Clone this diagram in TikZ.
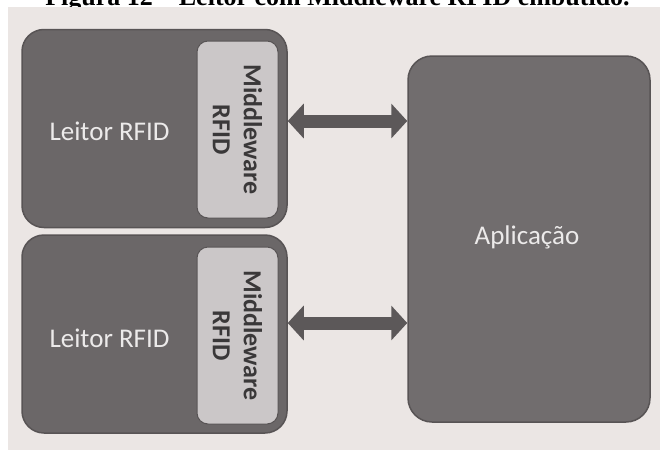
\documentclass[tikz,border=0pt]{standalone}
\usepackage{fontspec}
\setmainfont{Carlito}
\newfontfamily\titlefont{Liberation Serif}
\usetikzlibrary{arrows.meta}

\definecolor{paper}{HTML}{EBE6E4}
\definecolor{readerfill}{HTML}{6B6768}
\definecolor{appfill}{HTML}{716D6E}
\definecolor{readeredge}{HTML}{585455}
\definecolor{mwfill}{HTML}{CBC7C8}
\definecolor{mwtext}{HTML}{3A3839}
\definecolor{lighttext}{HTML}{ECEAEA}
\definecolor{arrowgray}{HTML}{5C5859}

\tikzset{
  readerbox/.style={draw=readeredge, line width=1.5pt, fill=readerfill,
    rounded corners=22pt, minimum width=265pt, minimum height=198pt, inner sep=0pt},
  mwbox/.style={draw=readeredge, line width=1pt, rounded corners=11pt,
    fill=mwfill, rotate=-90, minimum width=177pt, minimum height=81pt, inner sep=0pt,
    align=center, text=mwtext, font=\fontsize{26}{31}\selectfont\bfseries},
  appbox/.style={draw=readeredge, line width=1.5pt, fill=appfill,
    rounded corners=24pt, minimum width=242pt, minimum height=366pt, inner sep=0pt},
  lightlabel/.style={text=lighttext, font=\fontsize{27}{32}\selectfont, inner sep=0pt},
  biarrow/.style={draw=arrowgray, line width=13pt,
    {Triangle[length=16pt,width=34pt]}-{Triangle[length=16pt,width=34pt]}},
}

\begin{document}
\begin{tikzpicture}[x=1pt, y=-1pt]
  \useasboundingbox (0,0) rectangle (660,450);
  \clip (0,0) rectangle (660,450);
  \fill[white] (0,0) rectangle (660,450);

  % caption line above the figure, partly covered by the figure
  \node[anchor=base, inner sep=0pt, font=\titlefont\fontsize{26}{30}\selectfont\bfseries]
    (caption) at (337.5,5) {Figura 12 – Leitor com Middleware RFID embutido.};

  % the figure itself
  \fill[paper] (8,7) rectangle (660,450);

  % two readers with embedded middleware
  \node[readerbox] (reader1) at (154.5,128.5) {};
  \node[mwbox] (mw1) at (237.5,129.5) {Middleware\\RFID};
  \node[lightlabel] (lbl1) at (109.5,131) {Leitor RFID};

  \node[readerbox] (reader2) at (154.5,334) {};
  \node[mwbox] (mw2) at (237.5,335.5) {Middleware\\RFID};
  \node[lightlabel] (lbl2) at (109.5,338) {Leitor RFID};

  % application
  \node[appbox] (app) at (529,239) {};
  \node[lightlabel] (applbl) at (527,237) {Aplicação};

  % links between readers and application
  \coordinate (linkA) at (0,121);
  \coordinate (linkB) at (0,323);
  \path[biarrow] (reader1.east |- linkA) -- (app.west |- linkA);
  \path[biarrow] (reader2.east |- linkB) -- (app.west |- linkB);
\end{tikzpicture}
\end{document}
